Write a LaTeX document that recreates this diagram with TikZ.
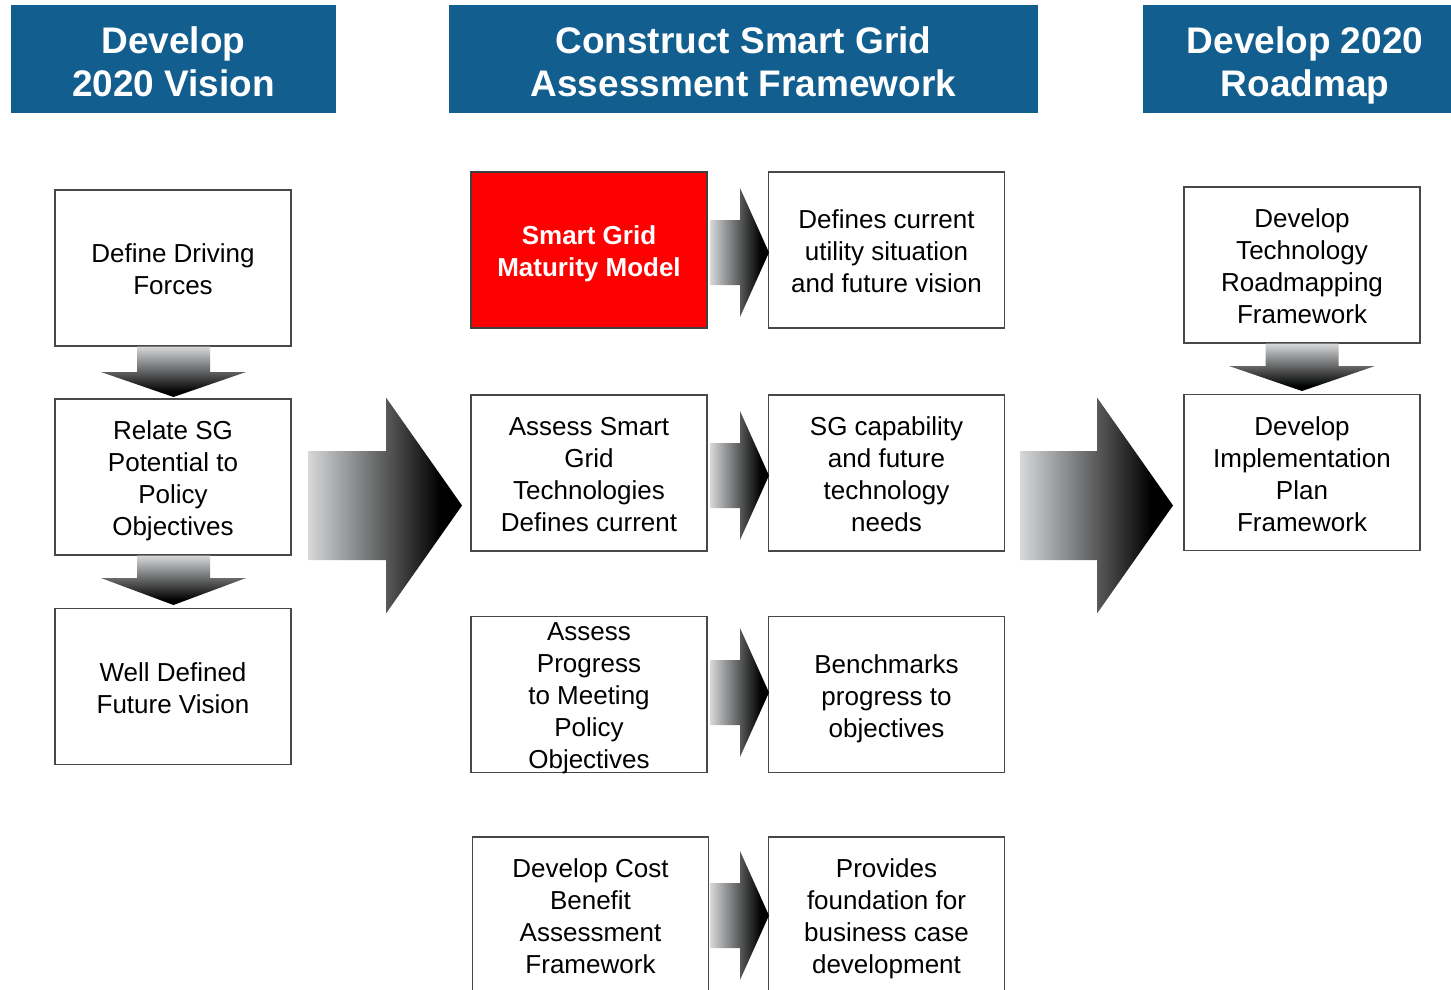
\documentclass[tikz,border=0pt]{standalone}
\usepackage{fontspec}
\setmainfont{Liberation Sans}
\usetikzlibrary{calc}

\definecolor{hdrblue}{RGB}{18,94,143}
\definecolor{boxline}{RGB}{72,72,72}
\definecolor{shaftgray}{RGB}{214,216,218}
\definecolor{sgred}{RGB}{255,0,0}

% gradients for the block arrows: pale grey at the tail, black at the tip
\pgfdeclarehorizontalshading{hgrad}{100bp}{color(0bp)=(shaftgray); color(25bp)=(shaftgray); color(68bp)=(black); color(100bp)=(black)}
\pgfdeclareverticalshading{vgrad}{100bp}{color(0bp)=(black); color(30bp)=(black); color(75bp)=(shaftgray); color(100bp)=(shaftgray)}

% #1 tail, #2 tip, #3 shaft half height, #4 head half height, #5 head length
\newcommand{\blockarrowh}[5]{%
  \path[shading=hgrad] let \p1=(#1), \p2=(#2) in
    (\x1,\y2+#3pt) -- (\x2-#5pt,\y2+#3pt) -- (\x2-#5pt,\y2+#4pt) -- (\x2,\y2)
    -- (\x2-#5pt,\y2-#4pt) -- (\x2-#5pt,\y2-#3pt) -- (\x1,\y2-#3pt) -- cycle;}
% #1 tail, #2 tip, #3 shaft half width, #4 head half width, #5 head length
\newcommand{\blockarrowv}[5]{%
  \path[shading=vgrad] let \p1=(#1), \p2=(#2) in
    (\x2-#3pt,\y1) -- (\x2-#3pt,\y2+#5pt) -- (\x2-#4pt,\y2+#5pt) -- (\x2,\y2)
    -- (\x2+#4pt,\y2+#5pt) -- (\x2+#3pt,\y2+#5pt) -- (\x2+#3pt,\y1) -- cycle;}

\begin{document}
\begin{tikzpicture}[x=1pt,y=-1pt,
  % boxes are drawn empty; their lines of text are set on top of them
  headerbox/.style={fill=hdrblue, inner sep=0pt, minimum height=108pt},
  headertext/.style={text=white, inner sep=0pt, align=center, text depth=0pt,
    yshift=-3pt, font=\fontsize{37}{43}\selectfont\bfseries},
  stagebox/.style={draw=boxline, line width=1.2pt, fill=white, minimum width=236pt,
    minimum height=156pt, inner sep=0pt},
  boxtext/.style={inner sep=0pt, align=center, text depth=0pt, yshift=-1.5pt,
    font=\fontsize{26}{32}\selectfont},
  redbox/.style={stagebox, fill=sgred, draw=black!75},
  redtext/.style={boxtext, text=white, font=\fontsize{26}{32}\selectfont\bfseries}]

\clip (0,0) rectangle (1451,990);
\fill[white] (0,0) rectangle (1451,990);

% column headers
\node[headerbox, minimum width=325pt] (h1) at (173.5,59) {};
\node[headertext] at (h1) {Develop\\2020 Vision};
\node[headerbox, minimum width=589pt] (h2) at (743.5,59) {};
\node[headertext] at (h2) {Construct Smart Grid\\Assessment Framework};
\node[headerbox, minimum width=324pt] (h3) at (1305,59) {};
\node[headertext] at (h3) {Develop 2020\\Roadmap};

% vision column
\node[stagebox] (v1) at (173,268) {};
\node[boxtext] at (v1) {Define Driving\\Forces};
\node[stagebox] (v2) at (173,477) {};
\node[boxtext] at (v2) {Relate SG\\Potential to\\Policy\\Objectives};
\node[stagebox] (v3) at (173,686.5) {};
\node[boxtext] at (v3) {Well Defined\\Future Vision};

% assessment framework: activities (left) and their outcomes (right)
\node[redbox] (m1l) at (589,250) {};
\node[redtext] at (m1l) {Smart Grid\\Maturity Model};
\node[stagebox] (m1r) at (886.5,250) {};
\node[boxtext] at (m1r) {Defines current\\utility situation\\and future vision};
\node[stagebox] (m2l) at (589,473) {};
\node[boxtext] at (m2l) {Assess Smart\\Grid\\Technologies\\Defines current};
\node[stagebox] (m2r) at (886.5,473) {};
\node[boxtext] at (m2r) {SG capability\\and future\\technology\\needs};
\node[stagebox] (m3l) at (589,694.5) {};
\node[boxtext] at (m3l) {Assess\\Progress\\to Meeting\\Policy\\Objectives};
\node[stagebox] (m3r) at (886.5,694.5) {};
\node[boxtext] at (m3r) {Benchmarks\\progress to\\objectives};
\node[stagebox] (m4l) at (590.5,915) {};
\node[boxtext] at (m4l) {Develop Cost\\Benefit\\Assessment\\Framework};
\node[stagebox] (m4r) at (886.5,915) {};
\node[boxtext] at (m4r) {Provides\\foundation for\\business case\\development};

% roadmap column
\node[stagebox] (r1) at (1302,265) {};
\node[boxtext] at (r1) {Develop\\Technology\\Roadmapping\\Framework};
\node[stagebox] (r2) at (1302,472.5) {};
\node[boxtext] at (r2) {Develop\\Implementation\\Plan\\Framework};

% tails and tips of the block arrows
\coordinate (bigA) at (308,505.5);
\coordinate (bigAtip) at (462,505.5);
\coordinate (bigB) at (1020,505.5);
\coordinate (bigBtip) at (1173,505.5);
\coordinate (a1) at (710,252.5);  \coordinate (a1tip) at (769,252.5);
\coordinate (a2) at (710,475.5);  \coordinate (a2tip) at (769,475.5);
\coordinate (a3) at (710,692.5);  \coordinate (a3tip) at (769,692.5);
\coordinate (a4) at (710,915.5);  \coordinate (a4tip) at (769,915.5);
\coordinate (d1tip) at (173.5,397);
\coordinate (d2tip) at (173.5,605);
\coordinate (d3tip) at (1302,391);

% down arrows inside the side columns
\blockarrowv{v1.south}{d1tip}{36.5}{72.5}{25}
\blockarrowv{v2.south}{d2tip}{36.5}{72.5}{27}
\blockarrowv{r1.south}{d3tip}{36.5}{73}{25}

% activity -> outcome arrows
\blockarrowh{a1}{a1tip}{32.5}{64.5}{29}
\blockarrowh{a2}{a2tip}{32.5}{64.5}{29}
\blockarrowh{a3}{a3tip}{32.5}{64.5}{29}
\blockarrowh{a4}{a4tip}{32.5}{64.5}{29}

% stage-to-stage arrows
\blockarrowh{bigA}{bigAtip}{54.5}{108}{76}
\blockarrowh{bigB}{bigBtip}{54.5}{108}{76}

\end{tikzpicture}
\end{document}
